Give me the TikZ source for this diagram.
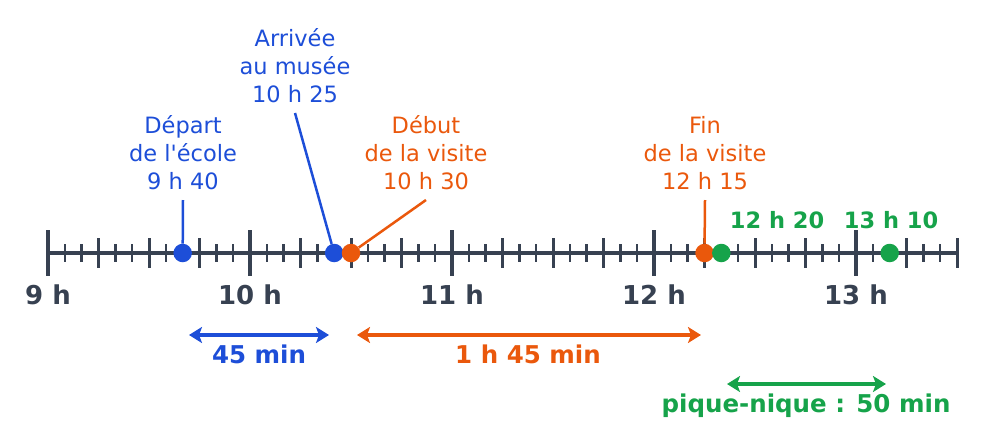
\documentclass[tikz,border=0pt]{standalone}
\usepackage{fontspec}
\setmainfont{DejaVu Sans}[Ligatures=TeXOff]
\usetikzlibrary{arrows.meta}
\definecolor{axe}{HTML}{374151}
\definecolor{bleu}{HTML}{1D4ED8}
\definecolor{orng}{HTML}{EA580C}
\definecolor{vert}{HTML}{16A34A}
\newcommand\tdot[3]{\node(#1)[circle,fill=#3,inner sep=0pt,minimum size=18.5pt] at ({48+3.36667*#2},253){};}

\begin{document}
\begin{tikzpicture}[x=1pt,y=-1pt,
    lab/.style={align=center,anchor=south,inner sep=0pt,outer sep=10pt,font=\fontsize{22.5}{28}\selectfont},
    dur/.style={anchor=base,font=\bfseries\fontsize{24.5}{28}\selectfont},
    span/.style={line width=4pt,{Stealth[length=13pt,width=16pt,inset=3pt]}-{Stealth[length=13pt,width=16pt,inset=3pt]}}]
    \useasboundingbox (0,0) rectangle (1006,445);
    % axe
    \draw[axe,line width=4pt] (48,253) -- (958,253);
    \foreach \m in {0,5,...,270} \draw[axe,line width=2.5pt] ({48+3.36667*\m},244) -- ++(0,18);
    \foreach \m in {0,15,...,270} \draw[axe,line width=3pt] ({48+3.36667*\m},238) -- ++(0,30);
    \foreach \h [count=\i from 0] in {9,...,13} {
        \draw[axe,line width=4pt] ({48+202*\i},230) -- ++(0,46);
        \node(h\h)[anchor=base,text=axe,font=\bfseries\fontsize{26}{30}\selectfont] at ({48+202*\i},304) {\h{} h};
    }
    % points
    \tdot{d1}{40}{bleu} \tdot{d2}{85}{bleu}
    \tdot{d3}{90}{orng} \tdot{d4}{195}{orng}
    \tdot{d5}{200}{vert} \tdot{d6}{250}{vert}
    % etiquettes
    \node(l1)[lab,text=bleu] at (183,200) {Départ\\de l'école\\9 h 40};
    \node(l2)[lab,text=bleu] at (295,113) {Arrivée\\au musée\\10 h 25};
    \node(l3)[lab,text=orng] at (426,200) {Début\\de la visite\\10 h 30};
    \node(l4)[lab,text=orng] at (705,200) {Fin\\de la visite\\12 h 15};
    \draw[bleu,line width=2.5pt] (l1.south) -- (d1);
    \draw[bleu,line width=2.5pt] (l2.south) -- (d2);
    \draw[orng,line width=2.5pt] (l3.south) -- (d3);
    \draw[orng,line width=2.5pt] (l4.south) -- (d4);
    \node(g1)[anchor=base,text=vert,font=\bfseries\fontsize{22.5}{28}\selectfont] at (777,228) {12 h 20};
    \node(g2)[anchor=base,text=vert,font=\bfseries\fontsize{22.5}{28}\selectfont] at (891,228) {13 h 10};
    % durees
    \coordinate(a1) at (189,335); \coordinate(a2) at (329,335);
    \coordinate(a3) at (357,335); \coordinate(a4) at (701,335);
    \coordinate(a5) at (727,384); \coordinate(a6) at (886,384);
    \draw[span,bleu] (a1) -- (a2);
    \draw[span,orng] (a3) -- (a4);
    \draw[span,vert] (a5) -- (a6);
    \node(t1)[dur,text=bleu] at (259,363) {45 min};
    \node(t2)[dur,text=orng] at (528,363) {1 h 45 min};
    \node(t3)[dur,text=vert] at (806,412) {pique-nique : 50 min};
\end{tikzpicture}
\end{document}
